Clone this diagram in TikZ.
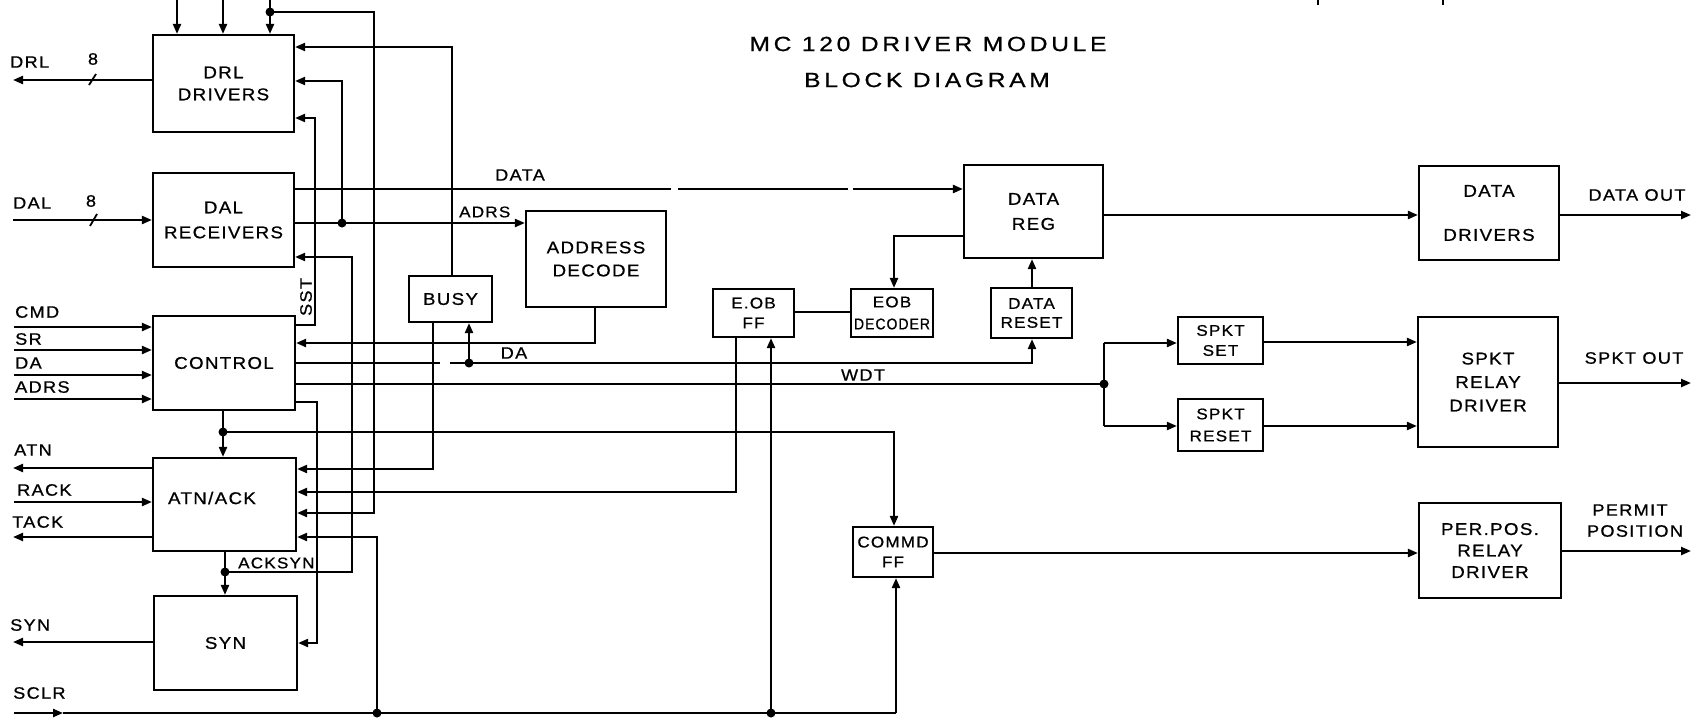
\documentclass[tikz,border=0pt]{standalone}
\usepackage{fontspec}
\usepackage{graphicx}
\setmainfont{Liberation Sans}[FakeStretch=1.1,LetterSpace=8,FakeBold=0.8]
\newfontfamily\titlefont{Liberation Sans}[FakeStretch=1.2,LetterSpace=18,FakeBold=0.8]
\usetikzlibrary{arrows.meta,calc}
\newcommand{\fsz}[2]{\fontsize{#1}{#2}\selectfont}
\tikzset{
  wire/.style={line width=2.2pt},
  arr/.style={wire,-{Triangle[length=10pt,width=8pt]}},
  blk/.style={draw,line width=2.2pt,rectangle,inner sep=0pt,align=center,font=\fsz{17}{24}},
  sblk/.style={draw,line width=2.2pt,rectangle,inner sep=0pt,align=center,font=\fsz{15.5}{20}},
  lbl/.style={inner sep=0pt,font=\fsz{16.5}{18}},
  jdot/.style={circle,fill,inner sep=0pt,minimum size=9pt},
}
\begin{document}
\begin{tikzpicture}[x=1pt,y=-1pt]
\useasboundingbox (0,0) rectangle (1699,720);
% title
\node[inner sep=0pt,font=\titlefont\fsz{20.5}{22}] (title1) at (928,44) {MC 120 DRIVER MODULE};
\node[inner sep=0pt,font=\titlefont\fsz{20.5}{22}] (title2) at (927,80) {BLOCK DIAGRAM};
% blocks
\node[blk,minimum width=141pt,minimum height=97pt,font=\fsz{17}{22}] (drl) at (223.5,83.5) {DRL\\DRIVERS};
\node[blk,minimum width=141pt,minimum height=94pt,font=\fsz{17}{25}] (dal) at (223.5,220) {DAL\\RECEIVERS};
\node[blk,minimum width=142pt,minimum height=94pt] (ctrl) at (224,363) {CONTROL};
\node[blk,minimum width=143pt,minimum height=93pt] (atn) at (224.5,504.5) {};
\node[lbl,font=\fsz{17}{20}] (atntxt) at (212,498) {ATN/ACK};
\node[blk,minimum width=143pt,minimum height=94pt] (syn) at (225.5,643) {SYN};
\node[blk,minimum width=83pt,minimum height=46pt] (busy) at (450.5,299) {BUSY};
\node[blk,minimum width=140pt,minimum height=96pt,font=\fsz{17}{23}] (addr) at (596,259) {ADDRESS\\DECODE};
\node[sblk,minimum width=81pt,minimum height=48pt] (eobff) at (753.5,313) {E.OB\\FF};
\node[sblk,minimum width=82pt,minimum height=48pt,font=\fsz{15.5}{22}] (eobdec) at (892,313) {EOB\\\resizebox{76pt}{\height}{DECODER}};
\node[sblk,minimum width=81pt,minimum height=50pt,font=\fsz{15.5}{19}] (dreset) at (1031.5,313) {DATA\\RESET};
\node[blk,minimum width=139pt,minimum height=93pt,font=\fsz{17}{25}] (dreg) at (1033.5,211.5) {DATA\\REG};
\node[blk,minimum width=140pt,minimum height=94pt,font=\fsz{17}{44}] (ddrv) at (1489,213) {DATA\\DRIVERS};
\node[sblk,minimum width=85pt,minimum height=47pt] (sset) at (1220.5,340.5) {SPKT\\SET};
\node[sblk,minimum width=85pt,minimum height=52pt,font=\fsz{15.5}{22}] (sreset) at (1220.5,425) {SPKT\\RESET};
\node[blk,minimum width=140pt,minimum height=130pt,font=\fsz{17}{23.5}] (srelay) at (1488,382) {SPKT\\RELAY\\DRIVER};
\node[sblk,minimum width=80pt,minimum height=50pt] (commd) at (893,552) {COMMD\\FF};
\node[blk,minimum width=142pt,minimum height=95pt,font=\fsz{17}{21.5}] (perpos) at (1490,550.5) {PER.POS.\\RELAY\\DRIVER};
% coordinates
\coordinate (t1) at (177,0);
\coordinate (t2) at (223,0);
\coordinate (j0) at (270,12);
\coordinate (t3) at (270,0);
\coordinate (tl1) at (374,12);
\coordinate (tl2) at (374,513);
\coordinate (drlout) at (13,80);
\coordinate (dalin) at (13,220);
\coordinate (cmdin) at (14,327);
\coordinate (srin) at (14,350);
\coordinate (dain) at (14,375);
\coordinate (adrsin) at (14,399);
\coordinate (atnout) at (13,468);
\coordinate (rackin) at (14,502);
\coordinate (tackout) at (13,537);
\coordinate (synout) at (13,642);
\coordinate (sclrin) at (14,713);
\coordinate (sclrmid) at (63,713);
\coordinate (busyup) at (452,47);
\coordinate (jadrs) at (342,223);
\coordinate (drlin2) at (342,81);
\coordinate (sst1) at (315,325);
\coordinate (sst2) at (315,118);
\coordinate (dg1) at (671,189);
\coordinate (dg2) at (678,189);
\coordinate (dg3) at (848,189);
\coordinate (dg4) at (853,189);
\coordinate (jack) at (225,572);
\coordinate (ack2) at (352,572);
\coordinate (ack3) at (352,257);
\coordinate (jctl) at (223,432);
\coordinate (cm1) at (894,432);
\coordinate (ad1) at (595,343);
\coordinate (da1) at (440,363);
\coordinate (da2) at (450,363);
\coordinate (jda) at (469,363);
\coordinate (da3) at (1032,363);
\coordinate (jwdt) at (1104,384);
\coordinate (sp1) at (1104,343);
\coordinate (sp2) at (1104,426);
\coordinate (cs1) at (317,402);
\coordinate (cs2) at (317,643);
\coordinate (bs1) at (433,469);
\coordinate (eb1) at (736,492);
\coordinate (jsc1) at (377,713);
\coordinate (sc4) at (377,537);
\coordinate (jsc2) at (771,713);
\coordinate (sc3) at (896,713);
\coordinate (ed1) at (800,312);
\coordinate (dr1) at (894,236);
\coordinate (dd1) at (1200,215);
\coordinate (dout) at (1691,215);
\coordinate (ss1) at (1300,342);
\coordinate (sr1) at (1300,426);
\coordinate (sout) at (1691,383);
\coordinate (cp1) at (1100,553);
\coordinate (pout) at (1691,551);
\coordinate (fa1) at (1318,0); \coordinate (fa2) at (1318,5);
\coordinate (fb1) at (1443,0); \coordinate (fb2) at (1443,5);
% top inputs
\draw[arr] (t1) -- (t1 |- drl.north);
\draw[arr] (t2) -- (t2 |- drl.north);
\draw[arr] (t3) -- (t3 |- drl.north);
\draw[arr] (j0) -- (tl1) -- (tl2) -- (atn.east |- tl2);
% edge fragments at top
\draw[wire] (fa1) -- (fa2);
\draw[wire] (fb1) -- (fb2);
% left side signals
\draw[arr] (drl.west |- drlout) -- (drlout);
\draw[arr] (dalin) -- (dal.west |- dalin);
\draw[arr] (cmdin) -- (ctrl.west |- cmdin);
\draw[arr] (srin) -- (ctrl.west |- srin);
\draw[arr] (dain) -- (ctrl.west |- dain);
\draw[arr] (adrsin) -- (ctrl.west |- adrsin);
\draw[arr] (atn.west |- atnout) -- (atnout);
\draw[arr] (rackin) -- (atn.west |- rackin);
\draw[arr] (atn.west |- tackout) -- (tackout);
\draw[arr] (syn.west |- synout) -- (synout);
\draw[arr] (sclrin) -- (sclrmid);
\draw[wire] (sclrmid) -- (sc3);
\draw[arr] (sc3) -- (commd.south -| sc3);
\draw[arr] (jsc1) -- (sc4) -- (atn.east |- sc4);
\draw[arr] (jsc2) -- (eobff.south -| jsc2);
% feedback into DRL
\draw[arr] (busy.north -| busyup) -- (busyup) -- (drl.east |- busyup);
\draw[arr] (jadrs) -- (drlin2) -- (drl.east |- drlin2);
\draw[arr] (ctrl.east |- sst1) -- (sst1) -- (sst2) -- (drl.east |- sst2);
% DAL outputs
\draw[arr] (dal.east |- jadrs) -- (addr.west |- jadrs);
\draw[wire] (dal.east |- dg1) -- (dg1);
\draw[wire] (dg2) -- (dg3);
\draw[arr] (dg4) -- (dreg.west |- dg4);
\draw[arr] (jack) -- (ack2) -- (ack3) -- (dal.east |- ack3);
% control
\draw[arr] (ctrl.south -| jctl) -- (atn.north -| jctl);
\draw[arr] (atn.south -| jack) -- (syn.north -| jack);
\draw[arr] (jctl) -- (cm1) -- (commd.north -| cm1);
\draw[arr] (addr.south -| ad1) -- (ad1) -- (ctrl.east |- ad1);
\draw[wire] (ctrl.east |- da1) -- (da1);
\draw[arr] (da2) -- (da3) -- (dreset.south -| da3);
\draw[arr] (jda) -- (busy.south -| jda);
\draw[wire] (ctrl.east |- jwdt) -- (jwdt);
\draw[wire] (sp1) -- (sp2);
\draw[arr] (sp1) -- (sset.west |- sp1);
\draw[arr] (sp2) -- (sreset.west |- sp2);
\draw[arr] (ctrl.east |- cs1) -- (cs1) -- (cs2) -- (syn.east |- cs2);
\draw[arr] (busy.south -| bs1) -- (bs1) -- (atn.east |- bs1);
\draw[arr] (eobff.south -| eb1) -- (eb1) -- (atn.east |- eb1);
% right part
\draw[wire] (eobff.east |- ed1) -- (eobdec.west |- ed1);
\draw[arr] (dreg.west |- dr1) -- (dr1) -- (eobdec.north -| dr1);
\draw[arr] (dreset.north -| da3) -- (dreg.south -| da3);
\draw[arr] (dreg.east |- dd1) -- (ddrv.west |- dd1);
\draw[arr] (ddrv.east |- dout) -- (dout);
\draw[arr] (sset.east |- ss1) -- (srelay.west |- ss1);
\draw[arr] (sreset.east |- sr1) -- (srelay.west |- sr1);
\draw[arr] (srelay.east |- sout) -- (sout);
\draw[arr] (commd.east |- cp1) -- (perpos.west |- cp1);
\draw[arr] (perpos.east |- pout) -- (pout);
% junction dots
\foreach \p in {j0,jadrs,jack,jctl,jda,jwdt,jsc1,jsc2} \node[jdot] at (\p) {};
% bus width ticks
\coordinate (k1a) at (89,85); \coordinate (k1b) at (96,74);
\coordinate (k2a) at (90,226); \coordinate (k2b) at (97,214);
\draw[line width=1.8pt] (k1a) -- (k1b);
\draw[line width=1.8pt] (k2a) -- (k2b);
% labels
\node[lbl,anchor=west] (lDRL) at (10,62) {DRL};
\node[lbl] (l8a) at (93,59) {8};
\node[lbl,anchor=west] (lDAL) at (13,203) {DAL};
\node[lbl] (l8b) at (91,201) {8};
\node[lbl,anchor=west] (lCMD) at (15,312) {CMD};
\node[lbl,anchor=west] (lSR) at (15,339) {SR};
\node[lbl,anchor=west] (lDA) at (15,363) {DA};
\node[lbl,anchor=west] (lADRS) at (15,387) {ADRS};
\node[lbl,anchor=west] (lATN) at (14,450) {ATN};
\node[lbl,anchor=west] (lRACK) at (17,490) {RACK};
\node[lbl,anchor=west] (lTACK) at (12,522) {TACK};
\node[lbl,anchor=west] (lSYN) at (10,625) {SYN};
\node[lbl,anchor=west] (lSCLR) at (13,693) {SCLR};
\node[lbl,rotate=90] (lSST) at (306,297) {SST};
\node[lbl,anchor=west,font=\fsz{15.5}{18}] (lACKSYN) at (238,563) {ACKSYN};
\node[lbl] (lDATA) at (520,175) {DATA};
\node[lbl,anchor=west,font=\fsz{15.5}{18}] (lADRS2) at (459,212) {ADRS};
\node[lbl] (lDA2) at (514,353) {DA};
\node[lbl] (lWDT) at (863,375) {WDT};
\node[lbl] (lDOUT) at (1637,195) {DATA OUT};
\node[lbl] (lSOUT) at (1634,358) {SPKT OUT};
\node[lbl] (lPERMIT) at (1630,510) {PERMIT};
\node[lbl] (lPOS) at (1635,531) {POSITION};
\end{tikzpicture}
\end{document}
